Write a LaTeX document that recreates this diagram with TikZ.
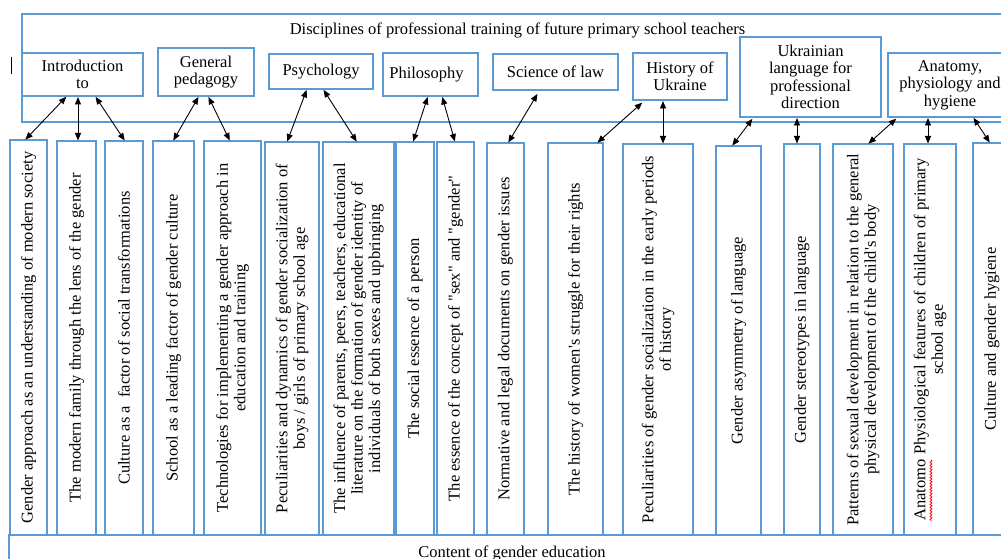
\documentclass[tikz,border=0pt]{standalone}
\usepackage{fontspec}
\setmainfont{Liberation Serif}
\usetikzlibrary{arrows.meta,decorations.pathmorphing}
\definecolor{boxblue}{HTML}{5B9BD5}
\newcommand\fs{\fontsize{16.5}{17.5}\selectfont}
\begin{document}
\begin{tikzpicture}[x=1pt,y=-1pt,
  box/.style={draw=boxblue,line width=1.6pt,inner sep=0pt,outer sep=0pt,align=center,font=\fs},
  rot/.style={rotate=90,align=center,font=\fs,inner sep=0pt},
  txt/.style={font=\fs,inner sep=0pt},
  link/.style={line width=0.9pt,{Triangle[length=7.5pt,width=6pt]}-{Triangle[length=7.5pt,width=6pt]},shorten <=1pt,shorten >=0.5pt}]
\useasboundingbox (0,0) rectangle (1001,559);
% frames
\node[box,minimum width=993pt,minimum height=108pt] (frame) at (518.5,68) {};
\node[txt,anchor=base] (title) at (517.5,35) {Disciplines of professional training of future primary school teachers};
\node[box,minimum width=1006pt,minimum height=40pt] (bframe) at (512,555) {};
\node[txt,anchor=base] (btitle) at (512,557) {Content of gender education};
\draw[line width=0.8pt] (11,57) -- (11,74);
% disciplines
\node[box,minimum width=121pt,minimum height=43pt] (d1) at (82.5,74.5) {Introduction\\to};
\node[box,minimum width=96pt,minimum height=48pt] (d2) at (206,72) {General\\pedagogy};
\node[box,minimum width=104pt,minimum height=35pt] (d3) at (321,71.5) {Psychology};
\node[box,minimum width=95pt,minimum height=43pt] (d4) at (430.5,74.5) {\hspace*{-8pt}Philosophy};
\node[box,minimum width=125pt,minimum height=36pt] (d5) at (555.5,72) {Science of law};
\node[box,minimum width=94pt,minimum height=47pt] (d6) at (680,76.5) {History of\\Ukraine};
\node[box,minimum width=141pt,minimum height=80pt] (d7) at (810.5,77) {Ukrainian\\language for\\professional\\direction};
\node[box,minimum width=124pt,minimum height=64pt] (d8) at (950,85) {Anatomy,\\physiology and\\hygiene};
% content boxes
\node[box,minimum width=37pt,minimum height=395pt] (b1) at (28.5,337.5) {};
\node[box,minimum width=39pt,minimum height=394pt] (b2) at (76.5,338) {};
\node[box,minimum width=38pt,minimum height=394pt] (b3) at (124,338) {};
\node[box,minimum width=41pt,minimum height=394pt] (b4) at (173.5,338) {};
\node[box,minimum width=57pt,minimum height=394pt] (b5) at (232.5,338) {};
\node[box,minimum width=54pt,minimum height=393pt] (b6) at (292,338.5) {};
\node[box,minimum width=71pt,minimum height=393pt] (b7) at (358.5,338.5) {};
\node[box,minimum width=38pt,minimum height=393pt] (b8) at (415,338.5) {};
\node[box,minimum width=37pt,minimum height=393pt] (b9) at (455.5,338.5) {};
\node[box,minimum width=37pt,minimum height=392pt] (b10) at (505.5,339) {};
\node[box,minimum width=55pt,minimum height=392pt] (b11) at (575.5,339) {};
\node[box,minimum width=70pt,minimum height=391pt] (b12) at (658,339.5) {};
\node[box,minimum width=45pt,minimum height=389pt] (b13) at (738.5,340.5) {};
\node[box,minimum width=36pt,minimum height=391pt] (b14) at (802,339.5) {};
\node[box,minimum width=60pt,minimum height=391pt] (b15) at (863,339.5) {};
\node[box,minimum width=52pt,minimum height=391pt] (b16) at (930,339.5) {};
\node[box,minimum width=38pt,minimum height=392pt] (b17) at (992,339) {};
% rotated texts
\node[rot] (t1) at (b1) {Gender approach as an understanding of modern society};
\node[rot] (t2) at (b2) {The modern family through the lens of the gender};
\node[rot] (t3) at (b3) {Culture as a \ factor of social transformations};
\node[rot] (t4) at (b4) {School as a leading factor of gender culture};
\node[rot] (t5) at (b5) {Technologies for implementing a gender approach in\\education and training};
\node[rot] (t6) at (b6) {Peculiarities and dynamics of gender socialization of\\boys / girls of primary school age};
\node[rot] (t7) at (b7) {The influence of parents, peers, teachers, educational\\literature on the formation of gender identity of\\individuals of both sexes and upbringing};
\node[rot] (t8) at (b8) {The social essence of a person};
\node[rot] (t9) at (b9) {The essence of the concept of \textquotedbl sex\textquotedbl{} and \textquotedbl gender\textquotedbl};
\node[rot] (t10) at (b10) {Normative and legal documents on gender issues};
\node[rot] (t11) at (b11) {The history of women\textquotesingle s struggle for their rights};
\node[rot] (t12) at (b12) {Peculiarities of gender socialization in the early periods\\of history};
\node[rot] (t13) at (b13) {Gender asymmetry of language};
\node[rot] (t14) at (b14) {Gender stereotypes in language};
\node[rot] (t15) at (b15) {Patterns of sexual development in relation to the general\\physical development of the child\textquotesingle s body};
\node[rot] (t16) at (b16) {Anatomo Physiological features of children of primary\\school age};
\node[rot] (t17) at (b17) {Culture and gender hygiene};
\draw[red,line width=0.8pt,decorate,decoration={snake,amplitude=0.9pt,segment length=3pt}] (931,460) -- (931,521);
% connectors
\draw[link] ([xshift=-15.5pt]d1.south) -- ([xshift=-3.5pt]b1.north);
\draw[link] ([xshift=-4.5pt]d1.south) -- ([xshift=1.5pt]b2.north);
\draw[link] ([xshift=12.5pt]d1.south) -- ([xshift=1pt]b3.north);
\draw[link] ([xshift=-7pt]d2.south) -- ([xshift=-0.5pt]b4.north);
\draw[link] ([xshift=2pt]d2.south) -- ([xshift=-2.5pt]b5.north);
\draw[link] ([xshift=-14pt]d3.south) -- ([xshift=-5pt]b6.north);
\draw[link] ([xshift=2pt]d3.south) -- ([xshift=-1.5pt]b7.north);
\draw[link] ([xshift=-2.5pt]d4.south) -- ([xshift=-2pt]b8.north);
\draw[link] ([xshift=11.5pt]d4.south) -- ([xshift=-0.5pt]b9.north);
\draw[link] ([xshift=-17.5pt,yshift=-3pt]d5.south) -- ([xshift=2.5pt]b10.north);
\draw[link] ([xshift=-37pt,yshift=-2pt]d6.south) -- ([xshift=21.5pt]b11.north);
\draw[link] ([xshift=-17pt]d6.south) -- ([xshift=5pt]b12.north);
\draw[link] ([xshift=-57.5pt,yshift=-1pt]d7.south) -- ([xshift=-6.5pt]b13.north);
\draw[link] ([xshift=-13.5pt]d7.south) -- ([xshift=-5pt]b14.north);
\draw[link] ([xshift=-53pt,yshift=-1pt]d8.south) -- ([xshift=5pt]b15.north);
\draw[link] ([xshift=-22pt]d8.south) -- ([xshift=-2pt]b16.north);
\draw[link] ([xshift=23pt]d8.south) -- ([xshift=-2pt]b17.north);
\end{tikzpicture}
\end{document}
